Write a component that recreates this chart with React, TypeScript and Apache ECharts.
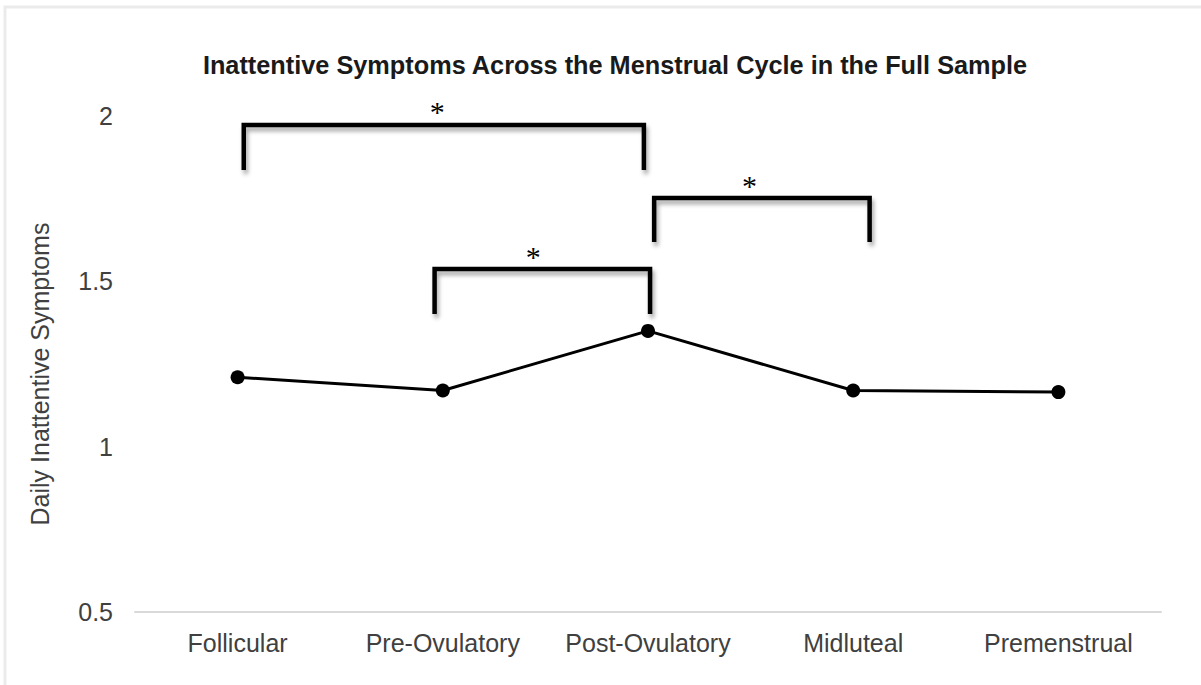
import React, { useEffect, useRef } from "react";
import * as echarts from "echarts";

const categories = ["Follicular", "Pre-Ovulatory", "Post-Ovulatory", "Midluteal", "Premenstrual"];
const values = [1.21, 1.17, 1.35, 1.17, 1.165];
const yTicks = [0.5, 1, 1.5, 2];

// significance brackets (x in category units, y in data units)
const bracketLeft = [0.03, 2.03, 0.96];
const bracketRight = [1.98, 3.08, 2.01];
const bracketTop = [1.973, 1.752, 1.537];
const bracketLeg = [1.837, 1.619, 1.401];
const starX = [0.973, 2.495, 1.441];
const starLabels = ["*", "*", "*"];

const FONT = "'Liberation Sans', Arial, sans-serif";

export default function App() {
  const ref = useRef<HTMLDivElement>(null);
  useEffect(() => {
    if (!ref.current) return;
    const chart = echarts.init(ref.current, null, { renderer: "svg" });
    const bracketData = bracketLeft.map((l, i) => [l, bracketRight[i], bracketTop[i], bracketLeg[i], starX[i]]);
    chart.setOption({
      animation: false,
      backgroundColor: "#ffffff",
      title: {
        text: "Inattentive Symptoms Across the Menstrual Cycle in the Full Sample",
        left: 610,
        textAlign: "center",
        top: 47,
        textStyle: { fontFamily: FONT, fontSize: 25.3, fontWeight: "bold", color: "#1a1a1a" },
      },
      graphic: [
        {
          type: "rect",
          shape: { x: 5, y: 7, width: 1210, height: 700 },
          style: { fill: "none", stroke: "#ebebeb", lineWidth: 3 },
          silent: true,
          z: -10,
        },
      ],
      grid: { left: 135, right: 40, top: 116, bottom: 73, containLabel: false },
      xAxis: {
        type: "category",
        data: categories,
        boundaryGap: true,
        axisLine: { show: true, lineStyle: { color: "#d9d9d9", width: 2 } },
        axisTick: { show: false },
        axisLabel: { interval: 0, fontFamily: FONT, fontSize: 25, color: "#404040", margin: 18 },
        splitLine: { show: false },
      },
      yAxis: {
        type: "value",
        min: yTicks[0],
        max: yTicks[yTicks.length - 1],
        interval: 0.5,
        name: "Daily Inattentive Symptoms",
        nameLocation: "middle",
        nameGap: 83,
        nameTextStyle: { fontFamily: FONT, fontSize: 25, color: "#404040", padding: [0, 20, 0, 0] },
        axisLine: { show: false },
        axisTick: { show: false },
        splitLine: { show: false },
        axisLabel: { fontFamily: FONT, fontSize: 25, color: "#404040", margin: 22 },
      },
      series: [
        {
          type: "line",
          data: values,
          symbol: "circle",
          symbolSize: 14,
          lineStyle: { color: "#000000", width: 3 },
          itemStyle: { color: "#000000" },
          z: 3,
        },
        {
          type: "custom",
          data: bracketData,
          encode: { x: 0, y: 2 },
          clip: false,
          z: 4,
          renderItem: (params: any, api: any) => {
            const top = api.value(2);
            const leg = api.value(3);
            const p0 = api.coord([0, top]);
            const p1 = api.coord([1, top]);
            const step = p1[0] - p0[0];
            const toX = (c: number) => p0[0] + c * step;
            const yTop = p0[1];
            const yLeg = api.coord([0, leg])[1];
            const xl = toX(api.value(0));
            const xr = toX(api.value(1));
            const xs = toX(api.value(4));
            return {
              type: "group",
              children: [
                {
                  type: "polyline",
                  shape: { points: [[xl, yLeg], [xl, yTop], [xr, yTop], [xr, yLeg]] },
                  style: {
                    fill: "none",
                    stroke: "#000000",
                    lineWidth: 4.5,
                    lineJoin: "miter",
                    lineCap: "butt",
                    shadowBlur: 4,
                    shadowColor: "rgba(0,0,0,0.35)",
                    shadowOffsetX: 2,
                    shadowOffsetY: 4,
                  },
                },
                {
                  type: "text",
                  x: xs,
                  y: yTop - 13,
                  style: {
                    text: starLabels[params.dataIndex],
                    fontFamily: "'Liberation Serif', 'DejaVu Serif', serif",
                    fontSize: 30,
                    fill: "#000000",
                    align: "center",
                    verticalAlign: "middle",
                  },
                },
              ],
            };
          },
        },
      ],
    });
    return () => chart.dispose();
  }, []);
  return (
    <div
      ref={ref}
      style={{ position: "fixed", left: 0, top: 0, width: 1201, height: 685 }}
    />
  );
}
